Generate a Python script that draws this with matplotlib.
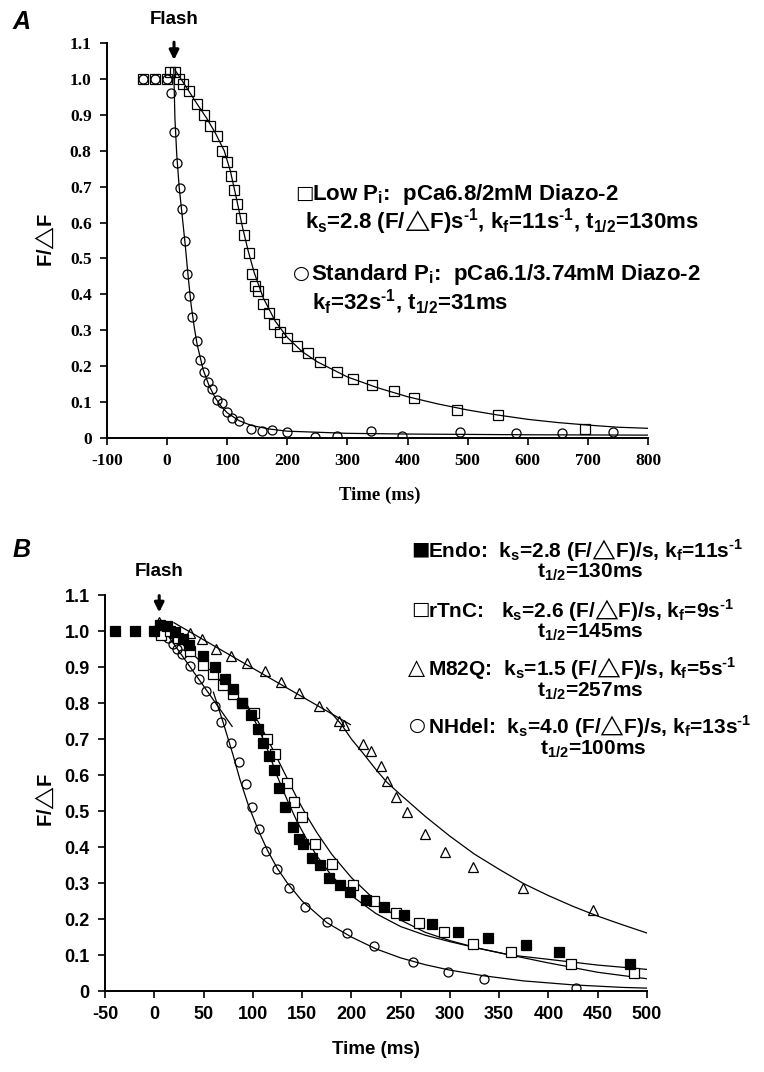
import matplotlib
matplotlib.use("Agg")
import matplotlib.pyplot as plt

plt.rcParams['mathtext.fontset'] = 'custom'
plt.rcParams['mathtext.rm'] = 'Liberation Sans:bold'
plt.rcParams['mathtext.it'] = 'Liberation Sans:bold'
plt.rcParams['mathtext.bf'] = 'Liberation Sans:bold'
plt.rcParams['mathtext.sf'] = 'Liberation Sans:bold'
plt.rcParams['mathtext.default'] = 'rm'
plt.rcParams['mathtext.fallback'] = 'stixsans'

# ---------------- Panel A data ----------------
a_low_t = [-40, -20, 0, 5, 13, 20, 27, 37, 50, 61, 72, 83, 91, 99, 105.5, 112, 116, 123, 128,
           135.5, 141, 146.7, 151, 160, 169, 177, 188, 199, 215.5, 235, 254, 283, 309, 340.5,
           376.7, 411, 483, 550, 696]
a_low_F = [1.0, 1.0, 1.0, 1.02, 1.02, 1.0, 0.985, 0.965, 0.93, 0.90, 0.87, 0.84, 0.80, 0.77,
           0.73, 0.69, 0.653, 0.614, 0.565, 0.514, 0.456, 0.423, 0.41, 0.373, 0.349, 0.318,
           0.296, 0.278, 0.257, 0.236, 0.211, 0.185, 0.165, 0.148, 0.130, 0.111, 0.079, 0.063,
           0.025]
a_std_t = [-40, -20, 0, 6, 11, 16.7, 21, 25.6, 30, 33, 36.7, 41, 49, 54, 61, 68, 75.5, 83, 92,
           99, 108, 120, 139, 158, 174, 200, 246, 282, 339, 390, 487, 580, 657, 742]
a_std_F = [1.0, 1.0, 1.0, 0.96, 0.853, 0.765, 0.695, 0.639, 0.549, 0.458, 0.395, 0.338, 0.271,
           0.218, 0.185, 0.157, 0.136, 0.105, 0.097, 0.072, 0.056, 0.046, 0.026, 0.0185, 0.021,
           0.016, 0.002, 0.006, 0.020, 0.006, 0.016, 0.014, 0.014, 0.017]
# fitted curves
a_lowfit_t = [13, 25, 50, 66, 80, 95, 105, 115, 125, 135, 145, 160, 180, 200, 225, 250, 300,
              350, 400, 450, 500, 550, 600, 650, 700, 750, 800]
a_lowfit_F = [1.025, 0.995, 0.93, 0.89, 0.85, 0.80, 0.745, 0.67, 0.59, 0.52, 0.46, 0.39, 0.325,
              0.28, 0.24, 0.212, 0.17, 0.14, 0.115, 0.095, 0.078, 0.064, 0.052, 0.043, 0.036,
              0.030, 0.027]
a_stdfit_t = [11, 13, 16, 20, 25, 30, 35, 40, 45, 50, 60, 70, 80, 90, 100, 120, 140, 170, 200,
              300, 400, 600, 800]
a_stdfit_F = [1.03, 0.89, 0.79, 0.70, 0.62, 0.54, 0.45, 0.37, 0.31, 0.26, 0.19, 0.145, 0.112,
              0.088, 0.07, 0.048, 0.035, 0.025, 0.019, 0.013, 0.011, 0.009, 0.008]
a_xticks = [-100, 0, 100, 200, 300, 400, 500, 600, 700, 800]
yticks = [0, 0.1, 0.2, 0.3, 0.4, 0.5, 0.6, 0.7, 0.8, 0.9, 1.0, 1.1]
ytick_labels = ["0", "0.1", "0.2", "0.3", "0.4", "0.5", "0.6", "0.7", "0.8", "0.9", "1.0", "1.1"]

# ---------------- Panel B data ----------------
b_endo_t = [-40, -20, 0, 5.7, 12.5, 21, 28.7, 35.5, 49.7, 61.5, 71.6, 80, 89.5, 98.6, 105.4,
            110.5, 116, 121, 127, 133, 141, 147, 151, 160.5, 168, 177, 188, 199, 215, 233, 253,
            282, 308.5, 339, 377, 411, 483]
b_endo_F = [1.0, 1.0, 1.0, 1.016, 1.014, 0.997, 0.977, 0.96, 0.93, 0.90, 0.867, 0.84, 0.80,
            0.768, 0.728, 0.69, 0.654, 0.613, 0.563, 0.51, 0.455, 0.421, 0.407, 0.37, 0.35,
            0.315, 0.294, 0.276, 0.252, 0.234, 0.21, 0.186, 0.163, 0.146, 0.127, 0.109, 0.076]
b_rtnc_t = [6.4, 16, 24, 36, 49, 60, 70, 80, 89.5, 101, 114, 123, 135, 142, 150, 163, 180, 202,
            223, 245, 269, 294, 323.7, 362, 423, 487]
b_rtnc_F = [0.99, 1.0, 0.98, 0.945, 0.905, 0.88, 0.85, 0.825, 0.80, 0.773, 0.70, 0.657, 0.577,
            0.526, 0.482, 0.408, 0.352, 0.294, 0.25, 0.218, 0.189, 0.164, 0.13, 0.108, 0.076,
            0.05]
b_m82q_t = [5, 12.5, 21, 36, 48, 63, 78, 93.6, 112, 129, 146.6, 167, 187.5, 192.6, 212, 220,
            230, 236, 245.6, 256, 275, 295, 323, 374.6, 445]
b_m82q_F = [1.025, 1.006, 0.995, 0.995, 0.977, 0.95, 0.93, 0.91, 0.89, 0.858, 0.828, 0.793,
            0.75, 0.74, 0.685, 0.666, 0.624, 0.583, 0.54, 0.498, 0.436, 0.387, 0.345, 0.287,
            0.226]
b_nhdel_t = [5.7, 14, 18.6, 23, 27.7, 36, 45.6, 52.4, 61.5, 68, 77.7, 86, 93, 99, 106, 113,
             125, 137, 153, 175, 196, 223, 262.5, 298, 334.6, 428]
b_nhdel_F = [0.99, 0.98, 0.963, 0.95, 0.935, 0.904, 0.867, 0.833, 0.793, 0.747, 0.69, 0.635,
             0.575, 0.512, 0.45, 0.39, 0.34, 0.285, 0.234, 0.191, 0.162, 0.126, 0.08, 0.053,
             0.033, 0.007]
# fitted curves (slow linear phase + fast phase)
b_sqlin_t = [8, 95]
b_sqlin_F = [1.017, 0.79]
b_endofit_t = [90, 105, 115, 125, 135, 145, 155, 165, 180, 200, 225, 250, 275, 300, 330, 361,
               400, 450, 500]
b_endofit_F = [0.81, 0.735, 0.67, 0.595, 0.53, 0.47, 0.42, 0.375, 0.32, 0.265, 0.215, 0.179,
               0.155, 0.137, 0.118, 0.10, 0.088, 0.072, 0.06]
b_rtncfit_t = [90, 105, 115, 125, 135, 145, 155, 165, 180, 200, 225, 250, 275, 300, 330, 361,
               400, 450, 500]
b_rtncfit_F = [0.81, 0.75, 0.70, 0.645, 0.59, 0.535, 0.485, 0.44, 0.38, 0.315, 0.25, 0.197,
               0.163, 0.14, 0.118, 0.10, 0.078, 0.052, 0.034]
b_m82qlin_t = [20, 199]
b_m82qlin_F = [1.023, 0.74]
b_m82qfit_t = [175, 190, 200, 212, 225, 236, 250, 275, 300, 325, 350, 375, 400, 425, 450, 475,
               500]
b_m82qfit_F = [0.787, 0.74, 0.70, 0.66, 0.615, 0.58, 0.545, 0.485, 0.43, 0.38, 0.338, 0.298,
               0.265, 0.235, 0.208, 0.184, 0.161]
b_nhlin_t = [8, 79]
b_nhlin_F = [1.01, 0.735]
b_nhfit_t = [60, 70, 80, 87, 95, 105, 115, 125, 135, 150, 175, 200, 225, 250, 275, 300, 335,
             375, 425, 475, 500]
b_nhfit_F = [0.83, 0.745, 0.655, 0.587, 0.52, 0.45, 0.39, 0.34, 0.30, 0.25, 0.19, 0.15, 0.117,
             0.092, 0.073, 0.058, 0.042, 0.028, 0.017, 0.01, 0.008]
b_xticks = [-50, 0, 50, 100, 150, 200, 250, 300, 350, 400, 450, 500]

# ---------------- figure ----------------
W, H = 764, 1072
fig = plt.figure(figsize=(W / 100, H / 100), dpi=100)


def rect(x0, y_top, x1, y_bot):
    return [x0 / W, 1 - y_bot / H, (x1 - x0) / W, (y_bot - y_top) / H]


def fx(px):
    return px / W


def fy(py):
    return 1 - py / H


SANS = ['Liberation Sans', 'DejaVu Sans']
SERIF = ['Liberation Serif', 'DejaVu Serif']
SYM = ['DejaVu Sans']


def style_axes(ax, tickfam, tsize):
    for s in ['top', 'right']:
        ax.spines[s].set_visible(False)
    for s in ['left', 'bottom']:
        ax.spines[s].set_linewidth(1.4)
    ax.tick_params(direction='out', length=5, width=1.2, pad=6)
    for lab in ax.get_xticklabels() + ax.get_yticklabels():
        lab.set_family(tickfam)
        lab.set_weight('bold')
        lab.set_fontsize(tsize)


lw = 0.9
ms = 6.5
mew = 0.9

# ---- Panel A ----
axA = fig.add_axes(rect(107, 43, 648, 438))
axA.plot(a_lowfit_t, a_lowfit_F, color='black', lw=lw)
axA.plot(a_stdfit_t, a_stdfit_F, color='black', lw=lw)
axA.plot(a_std_t, a_std_F, linestyle='none', marker='o', ms=ms, mfc='none', mec='black', mew=mew)
axA.plot(a_low_t, a_low_F, linestyle='none', marker='s', ms=ms, mfc='none', mec='black', mew=mew)
axA.set_xlim(-100, 800)
axA.set_ylim(0, 1.1)
axA.set_xticks(a_xticks)
axA.set_xticklabels([str(v) for v in a_xticks])
axA.set_yticks(yticks)
axA.set_yticklabels(ytick_labels)
style_axes(axA, SERIF, 12.5)
axA.annotate('', xy=(11.5, 1.045), xytext=(11.5, 1.11), xycoords='data',
             arrowprops=dict(arrowstyle='-|>', lw=2.2, color='black', mutation_scale=14),
             annotation_clip=False)
axA.text(11.5, 1.165, 'Flash', ha='center', va='center', fontsize=13.5, fontweight='bold',
         family=SANS, clip_on=False)

# ---- Panel B ----
axB = fig.add_axes(rect(105, 595, 647, 991))
axB.plot(b_sqlin_t, b_sqlin_F, color='black', lw=lw)
axB.plot(b_endofit_t, b_endofit_F, color='black', lw=lw)
axB.plot(b_rtncfit_t, b_rtncfit_F, color='black', lw=lw)
axB.plot(b_m82qlin_t, b_m82qlin_F, color='black', lw=lw)
axB.plot(b_m82qfit_t, b_m82qfit_F, color='black', lw=lw)
axB.plot(b_nhlin_t, b_nhlin_F, color='black', lw=lw)
axB.plot(b_nhfit_t, b_nhfit_F, color='black', lw=lw)
axB.plot(b_nhdel_t, b_nhdel_F, linestyle='none', marker='o', ms=ms, mfc='none', mec='black', mew=mew)
axB.plot(b_m82q_t, b_m82q_F, linestyle='none', marker='^', ms=ms, mfc='none', mec='black', mew=mew)
axB.plot(b_rtnc_t, b_rtnc_F, linestyle='none', marker='s', ms=ms, mfc='white', mec='black', mew=mew)
axB.plot(b_endo_t, b_endo_F, linestyle='none', marker='s', ms=ms, mfc='black', mec='black', mew=mew)
axB.set_xlim(-50, 500)
axB.set_ylim(0, 1.1)
axB.set_xticks(b_xticks)
axB.set_xticklabels([str(v) for v in b_xticks])
axB.set_yticks(yticks)
axB.set_yticklabels(ytick_labels)
style_axes(axB, SANS, 13)
axB.annotate('', xy=(5, 1.044), xytext=(5, 1.106), xycoords='data',
             arrowprops=dict(arrowstyle='-|>', lw=2.2, color='black', mutation_scale=14),
             annotation_clip=False)
axB.text(5, 1.165, 'Flash', ha='center', va='center', fontsize=13.5, fontweight='bold',
         family=SANS, clip_on=False)

# ---- axis labels & panel letters ----
fig.text(fx(380), fy(495), 'Time (ms)', ha='center', va='center', fontsize=13.5,
         fontweight='bold', family=SERIF)
fig.text(fx(376), fy(1050), 'Time (ms)', ha='center', va='center', fontsize=13.5,
         fontweight='bold', family=SANS)
fig.text(fx(45), fy(240), r'F/$△$F', ha='center', va='center', rotation=90, fontsize=14.5,
         fontweight='bold', family=SANS)
fig.text(fx(45), fy(800), r'F/$△$F', ha='center', va='center', rotation=90, fontsize=14.5,
         fontweight='bold', family=SANS)
fig.text(fx(22), fy(22), 'A', ha='center', va='center', fontsize=18, fontweight='bold',
         style='italic', family=SANS)
fig.text(fx(22), fy(550), 'B', ha='center', va='center', fontsize=18, fontweight='bold',
         style='italic', family=SANS)

# ---- annotation texts ----
MS = '$^{\u2010' + '1}$'   # superscript "-1" drawn with a hyphen


def label(x, y, s, size):
    fig.text(fx(x), fy(y), s, ha='left', va='center_baseline', fontsize=size,
             fontweight='bold', family=SANS)


def sym(x, y, ch, size):
    fig.text(fx(x), fy(y), ch, ha='left', va='center_baseline', fontsize=size,
             family=SYM)


SA = 16
sym(295, 191, '\u25a1', 14)
label(312, 191, r'Low P$_{i}$:  pCa6.8/2mM Diazo-2', SA)
label(305, 217, r'k$_{s}$=2.8 (F/$△$F)s' + MS + r', k$_{f}$=11s' + MS + r', t$_{1/2}$=130ms', SA)
sym(293, 271, '\u25cb', 14)
label(311, 271, r'Standard P$_{i}$:  pCa6.1/3.74mM Diazo-2', SA)
label(312, 299, r'k$_{f}$=32s' + MS + r', t$_{1/2}$=31ms', SA)

SB = 15
sym(411, 547, '\u25a0', 14)
label(428, 547, r'Endo:  k$_{s}$=2.8 (F/$△$F)/s, k$_{f}$=11s' + MS, SB)
label(537, 570, r't$_{1/2}$=130ms', SB)
sym(411, 607, '\u25a1', 14)
label(428, 607, r'rTnC:   k$_{s}$=2.6 (F/$△$F)/s, k$_{f}$=9s' + MS, SB)
label(537, 630, r't$_{1/2}$=145ms', SB)
sym(408, 666, '\u25b3', 16)
label(428, 665, r'M82Q:  k$_{s}$=1.5 (F/$△$F)/s, k$_{f}$=5s' + MS, SB)
label(537, 689, r't$_{1/2}$=257ms', SB)
sym(409, 723, '\u25cb', 14)
label(428, 723, r'NHdel:  k$_{s}$=4.0 (F/$△$F)/s, k$_{f}$=13s' + MS, SB)
label(540, 747, r't$_{1/2}$=100ms', SB)

fig.savefig('out.png', dpi=100)
